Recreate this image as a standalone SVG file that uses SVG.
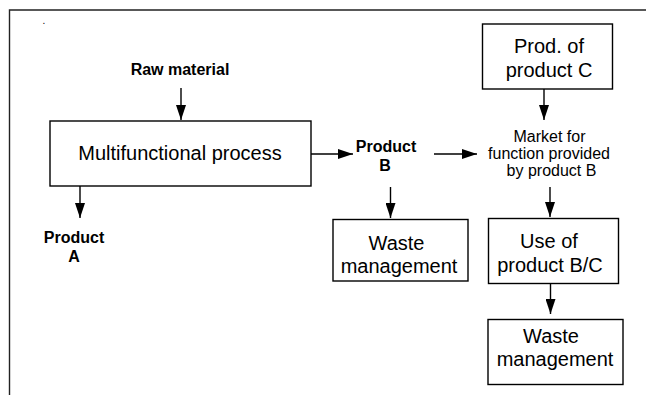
<svg xmlns="http://www.w3.org/2000/svg" width="646" height="395" viewBox="0 0 646 395">
<defs>
<marker id="ah" markerUnits="userSpaceOnUse" markerWidth="15" markerHeight="10" refX="15" refY="5" orient="auto">
<path d="M0,0 L15,5 L0,10 z" fill="#000"/>
</marker>
<style>
.box{fill:#fff;stroke:#000;stroke-width:1.4}
.con{stroke:#000;stroke-width:1.4;fill:none;marker-end:url(#ah)}
.frame{stroke:#222;stroke-width:1.4;fill:none}
.t{font-family:"Liberation Sans",Arial,sans-serif;font-size:20px;fill:#000;text-anchor:middle}
.s{font-family:"Liberation Sans",Arial,sans-serif;font-size:16px;fill:#000;text-anchor:middle}
.b{font-family:"Liberation Sans",Arial,sans-serif;font-size:16px;font-weight:bold;fill:#000;text-anchor:middle}
</style>
</defs>
<rect width="646" height="395" fill="#fff"/>
<path class="frame" d="M9.5,395 V10 H646"/>
<text x="44" y="24" class="s" style="font-size:10px">.</text>

<g id="connectors">
<line class="con" x1="181" y1="88" x2="181" y2="120"/>
<line class="con" x1="311" y1="154" x2="353" y2="154"/>
<line class="con" x1="80" y1="186" x2="80" y2="218"/>
<line class="con" x1="434" y1="154" x2="477" y2="154"/>
<line class="con" x1="544" y1="89" x2="544" y2="120"/>
<line class="con" x1="390.5" y1="187" x2="390.5" y2="218"/>
<line class="con" x1="550" y1="187" x2="550" y2="217"/>
<line class="con" x1="550.5" y1="283" x2="550.5" y2="314"/>
</g>

<g id="raw-material"><text class="b" x="180" y="75">Raw material</text></g>

<g id="multifunctional-process">
<rect class="box" x="50" y="121" width="261" height="65"/>
<text class="t" x="180" y="160">Multifunctional process</text>
</g>

<g id="product-a">
<text class="b" x="74" y="243">Product</text>
<text class="b" x="74" y="262">A</text>
</g>

<g id="product-b">
<text class="b" x="386" y="152">Product</text>
<text class="b" x="385" y="171">B</text>
</g>

<g id="prod-c">
<rect class="box" x="482.5" y="24" width="130" height="65"/>
<text class="t" x="549" y="53">Prod. of</text>
<text class="t" x="549" y="77">product C</text>
</g>

<g id="market">
<text class="s" x="549.5" y="141.5">Market for</text>
<text class="s" x="549" y="158.5">function provided</text>
<text class="s" x="551.5" y="175.5">by product B</text>
</g>

<g id="waste-1">
<rect class="box" x="333" y="219.5" width="135" height="61.5"/>
<text class="t" x="396.5" y="249.5">Waste</text>
<text class="t" x="399" y="272.5">management</text>
</g>

<g id="use-bc">
<rect class="box" x="488.5" y="218.5" width="130" height="65"/>
<text class="t" x="549" y="247.5">Use of</text>
<text class="t" x="550" y="271.5">product B/C</text>
</g>

<g id="waste-2">
<rect class="box" x="488" y="319.5" width="135" height="65"/>
<text class="t" x="551" y="342.5">Waste</text>
<text class="t" x="555" y="366">management</text>
</g>
</svg>
